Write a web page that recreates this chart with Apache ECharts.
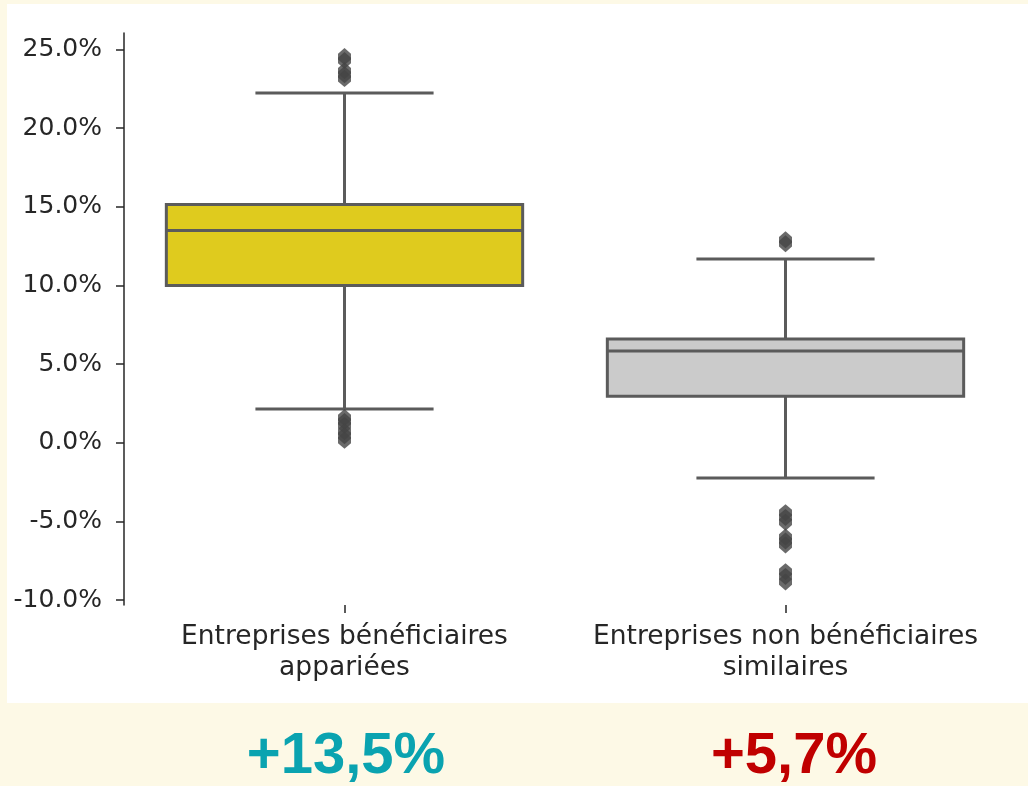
<!DOCTYPE html>
<html><head><meta charset="utf-8">
<script src="https://cdn.jsdelivr.net/npm/echarts@6/dist/echarts.min.js"></script>
<style>html,body{margin:0;padding:0;background:#fdf9e6}#c{width:1028px;height:786px}</style>
</head><body><div id="c"></div>
<script>
const categories = ['Entreprises bénéficiaires\nappariées', 'Entreprises non bénéficiaires\nsimilaires'];
const whiskerLow = [2.15, -2.24];
const q1 = [10.0, 2.95];
const median = [13.5, 5.83];
const q3 = [15.15, 6.6];
const whiskerHigh = [22.23, 11.68];
const outliers1 = [24.55, 24.3, 23.65, 23.4, 23.15, 1.6, 1.35, 1.1, 0.7, 0.45, 0.15];
const outliers2 = [12.9, 12.65, -4.45, -4.75, -5.05, -6.0, -6.25, -6.5, -8.2, -8.5, -8.85];
const yTicks = [-10, -5, 0, 5, 10, 15, 20, 25];
const boxColors = ['#dfcb1e', '#cbcbcb'];
const summaryLabels = ['+13,5%', '+5,7%'];
const summaryColors = ['#0aa3b0', '#c00000'];

const edge = '#5b5b5b';
const txt = '#262626';
const font = 'DejaVu Sans';

const boxData = categories.map((c, i) => [i, whiskerLow[i], q1[i], median[i], q3[i], whiskerHigh[i]]);
const outlierData = outliers1.map(v => [0, v]).concat(outliers2.map(v => [1, v]));

function renderBox(params, api) {
  const i = api.value(0);
  const c = api.coord([i, api.value(3)]);
  const band = api.size([1, 0])[0];
  const hw = band * 0.404, cw = hw / 2;
  const x = c[0];
  const yLow = api.coord([i, api.value(1)])[1];
  const yQ1 = api.coord([i, api.value(2)])[1];
  const yMed = c[1];
  const yQ3 = api.coord([i, api.value(4)])[1];
  const yHigh = api.coord([i, api.value(5)])[1];
  const st = {stroke: edge, lineWidth: 3};
  return {type: 'group', children: [
    {type: 'line', shape: {x1: x, y1: yQ1, x2: x, y2: yLow}, style: st},
    {type: 'line', shape: {x1: x, y1: yQ3, x2: x, y2: yHigh}, style: st},
    {type: 'line', shape: {x1: x - cw, y1: yLow, x2: x + cw, y2: yLow}, style: st},
    {type: 'line', shape: {x1: x - cw, y1: yHigh, x2: x + cw, y2: yHigh}, style: st},
    {type: 'rect', shape: {x: x - hw, y: yQ3, width: 2 * hw, height: yQ1 - yQ3}, style: {fill: boxColors[i], stroke: edge, lineWidth: 3}},
    {type: 'line', shape: {x1: x - hw, y1: yMed, x2: x + hw, y2: yMed}, style: st}
  ]};
}

const chart = echarts.init(document.getElementById('c'));
chart.setOption({
  backgroundColor: '#fdf9e6',
  animation: false,
  graphic: [
    {type: 'rect', z: -100, shape: {x: 7, y: 4, width: 1021, height: 699}, style: {fill: '#ffffff'}},
    {type: 'text', x: 346, y: 757, style: {text: summaryLabels[0], fill: summaryColors[0], font: 'bold 58px "Liberation Sans", Arial, sans-serif', textAlign: 'center', textVerticalAlign: 'middle'}},
    {type: 'text', x: 794, y: 757, style: {text: summaryLabels[1], fill: summaryColors[1], font: 'bold 58px "Liberation Sans", Arial, sans-serif', textAlign: 'center', textVerticalAlign: 'middle'}}
  ],
  grid: [
    {left: 124, top: 49.5, width: 882, height: 550.5},
    {left: 124, top: 33, width: 882, height: 572}
  ],
  xAxis: [
    {type: 'category', gridIndex: 0, data: categories, show: false},
    {type: 'category', gridIndex: 1, data: categories,
      axisLine: {show: false},
      axisTick: {show: true, alignWithLabel: true, length: 8, lineStyle: {color: txt, width: 1.5}},
      axisLabel: {fontSize: 26.5, lineHeight: 31, color: txt, fontFamily: font, margin: 17, interval: 0}}
  ],
  yAxis: [
    {type: 'value', gridIndex: 0, min: -10, max: 25, interval: 5,
      axisLine: {show: false},
      splitLine: {show: false},
      axisTick: {show: true, length: 8, customValues: yTicks, lineStyle: {color: txt, width: 1.5}},
      axisLabel: {customValues: yTicks, fontSize: 25, color: txt, fontFamily: font, margin: 22,
        formatter: v => v.toFixed(1) + '%'}},
    {type: 'value', gridIndex: 1, min: 0, max: 1,
      axisLine: {show: true, lineStyle: {color: txt, width: 1.5}},
      axisTick: {show: false}, axisLabel: {show: false}, splitLine: {show: false}}
  ],
  series: [
    {type: 'custom', xAxisIndex: 0, yAxisIndex: 0, renderItem: renderBox, data: boxData, z: 2},
    {type: 'scatter', xAxisIndex: 0, yAxisIndex: 0, data: outlierData,
      symbol: 'path://M0,0 L5,6 L5,12 L0,18 L-5,12 L-5,6 Z', symbolSize: [13, 17],
      itemStyle: {color: '#454545'}, z: 3}
  ]
});
</script></body></html>
